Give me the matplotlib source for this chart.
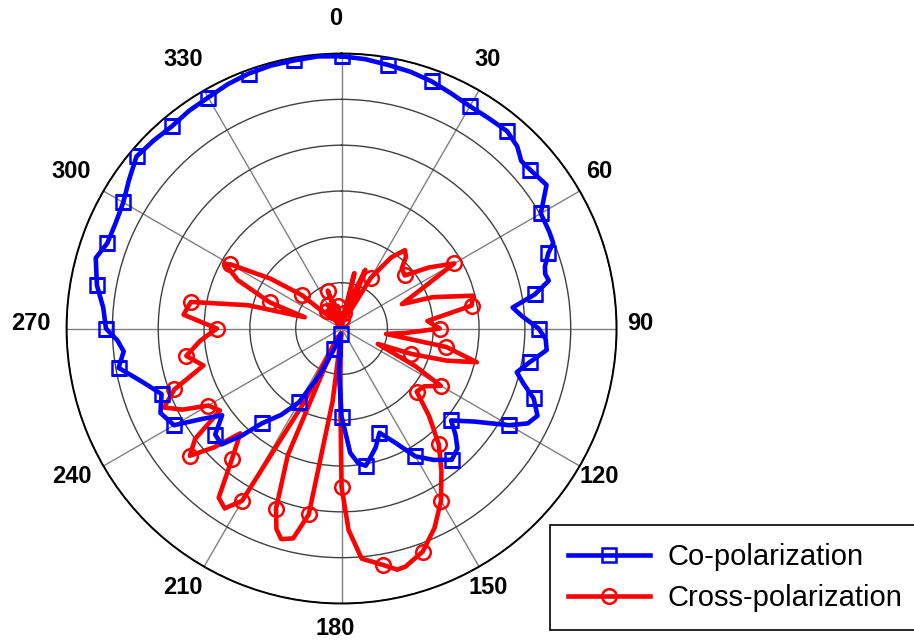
import numpy as np
import matplotlib
matplotlib.use("Agg")
import matplotlib.pyplot as plt

plt.rcParams['font.family'] = ['Liberation Sans', 'DejaVu Sans']

# co-polarization pattern (angle in deg, gain in dB)
co_ang = [0, 5, 10, 15, 20, 25, 30, 35, 40, 44, 47, 50, 55, 60, 65, 68, 70, 73, 75, 77,
          80, 83, 86, 90, 93, 96, 100, 104, 107, 110, 114, 117, 120, 125, 130, 133, 136,
          140, 145, 150, 155, 160, 164, 167, 170, 173, 176, 180, 183, 186, 190, 195, 200,
          205, 210, 215, 220, 223, 226, 230, 234, 237, 240, 245, 250, 255, 260, 264, 267,
          270, 275, 280, 286, 290, 295, 300, 305, 310, 315, 320, 325, 330, 335, 340, 345,
          350, 355, 360]
co_db = [-0.3, -0.5, -0.8, -1.0, -1.3, -1.7, -2.0, -2.0, -1.9, -2.4, -3.2, -3.1, -2.7,
         -4.9, -5.0, -5.1, -6.0, -6.8, -7.0, -6.8, -8.6, -11.2, -10.3, -8.5, -7.7, -7.5,
         -9.1, -10.3, -9.2, -7.7, -6.6, -7.2, -8.9, -12.3, -14.4, -13.0, -11.8, -11.3,
         -12.5, -13.9, -16.3, -17.9, -16.5, -15.7, -14.8, -15.2, -16.4, -20.4, -25.0,
         -28.5, -29.4, -28.8, -27.6, -24.5, -20.7, -18.5, -16.5, -14.0, -11.8, -12.0,
         -13.9, -11.9, -8.9, -8.2, -9.1, -7.5, -5.3, -6.1, -5.5, -4.3, -3.9, -2.9, -2.1,
         -2.8, -2.8, -2.5, -1.7, -0.8, -1.0, -1.2, -1.0, -0.9, -0.6, -0.4, -0.3, -0.3,
         -0.2, -0.3]

# cross-polarization pattern
cx_ang = [0, 5, 10, 13, 16, 19, 22, 26, 30, 35, 39, 42, 45, 50, 55, 60, 64, 68, 71, 76,
          80, 85, 90, 94, 97, 100, 104, 107, 110, 113, 117, 120, 125, 130, 135, 140, 145,
          150, 155, 160, 165, 167, 170, 175, 178, 180, 182, 184, 187, 190, 193, 196, 198,
          200, 203, 205, 207, 210, 213, 216, 220, 224, 227, 230, 233, 236, 240, 243, 246,
          250, 255, 260, 265, 270, 275, 280, 284, 287, 290, 295, 299, 300, 305, 310, 315,
          320, 325, 330, 335, 340, 345, 350, 355, 360]
cx_db = [-29.0, -29.7, -28.3, -23.8, -29.0, -26.0, -23.1, -28.0, -23.6, -20.5, -19.0,
         -19.5, -20.7, -21.0, -18.4, -15.8, -20.5, -22.9, -19.5, -15.2, -15.6, -20.6,
         -19.3, -23.0, -25.1, -18.4, -14.8, -18.0, -21.9, -25.7, -21.0, -17.5, -19.0,
         -19.3, -16.5, -13.5, -11.0, -8.3, -6.0, -4.1, -3.1, -3.0, -3.8, -4.8, -8.0,
         -12.7, -25.0, -29.5, -22.0, -9.4, -6.5, -6.1, -7.0, -9.1, -15.0, -29.0, -20.8,
         -8.3, -6.6, -7.2, -11.4, -14.1, -11.0, -8.4, -10.0, -14.0, -13.2, -10.5, -8.8,
         -10.6, -14.4, -12.8, -14.5, -16.4, -12.7, -13.3, -19.5, -25.8, -21.7, -17.5,
         -15.5, -16.0, -20.5, -24.3, -28.5, -27.5, -29.5, -27.0, -29.2, -25.6, -29.0,
         -27.5, -29.5, -29.0]

tick_deg = np.arange(0, 360, 30)

fig = plt.figure(figsize=(9.14, 6.41), dpi=100)
ax = fig.add_axes([0.0728, 0.0585, 0.6018, 0.858], projection='polar')
ax.set_theta_zero_location('N')
ax.set_theta_direction(-1)

co_t = np.deg2rad(co_ang)
cx_t = np.deg2rad(cx_ang)
co_mk = [i for i, a in enumerate(co_ang) if a % 10 == 0 and a < 360]
cx_mk = [i for i, a in enumerate(cx_ang) if a % 10 == 0 and a < 360]

ax.plot(cx_t, cx_db, color='#ff0000', lw=3.3, marker='o', ms=10.5, mfc='none',
        mew=1.8, markevery=cx_mk, label='Cross-polarization', zorder=3,
        solid_joinstyle='round')
ax.plot(co_t, co_db, color='#0000ff', lw=3.3, marker='s', ms=10, mfc='none',
        mew=1.8, markevery=co_mk, label='Co-polarization', zorder=4,
        solid_joinstyle='round')

ax.set_ylim(-30, 0)
ax.set_yticks([-25, -20, -15, -10, -5, 0])
ax.set_yticklabels([])
ax.set_xticks(np.deg2rad(tick_deg))
ax.set_xticklabels([])
ax.set_xticks(np.deg2rad(tick_deg + 15), minor=True)
ax.tick_params(axis='x', which='major', length=0)
ax.tick_params(axis='x', which='minor', direction='in', length=7, width=0.8, color='black')
ax.xaxis.grid(True, color='#808080', lw=1.0)
ax.yaxis.grid(True, color='#404040', lw=1.0)
ax.spines['polar'].set_linewidth(1.4)
ax.spines['polar'].set_color('black')

# angle labels on a ring slightly offset from the plot centre
for d in tick_deg:
    a = np.deg2rad(d)
    x = 0.5 - 0.011 + 0.5545 * np.sin(a)
    y = 0.5 + 0.009 + 0.5545 * np.cos(a)
    ax.text(x, y, str(d), transform=ax.transAxes, ha='center', va='center',
            fontsize=17, fontweight='bold', clip_on=False)

h, l = ax.get_legend_handles_labels()
leg = fig.legend(h[::-1], l[::-1], loc='upper left', bbox_to_anchor=(550 / 914, 1 - 525 / 641),
                 fontsize=21, handlelength=2.8, handletextpad=0.6, borderpad=0.62,
                 labelspacing=0.45, fancybox=False, framealpha=1, edgecolor='black',
                 borderaxespad=0)
leg.get_frame().set_linewidth(1.2)

fig.savefig('out.png', dpi=100)
